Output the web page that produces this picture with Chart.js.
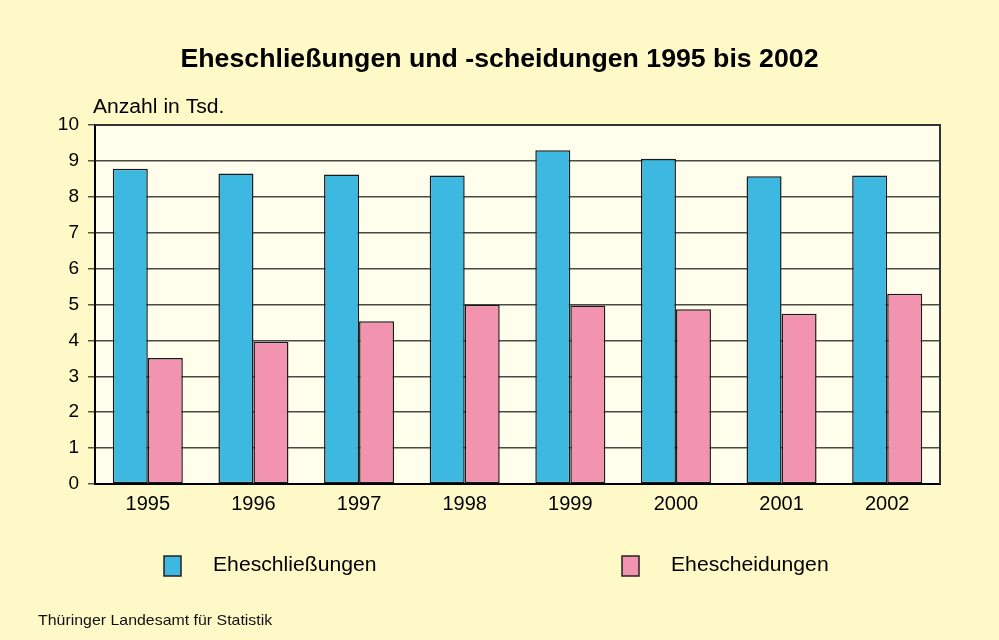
<!DOCTYPE html>
<html>
<head>
<meta charset="utf-8">
<script src="https://cdn.jsdelivr.net/npm/chart.js@4.4.1/dist/chart.umd.min.js"></script>
<style>
html,body{margin:0;padding:0;background:#FFF9C8;}
#wrap{width:999px;height:640px;position:relative;}
</style>
</head>
<body>
<div id="wrap"><canvas id="c" width="999" height="640"></canvas></div>
<script>
const titleText = "Eheschließungen und -scheidungen 1995 bis 2002";
const unitLabel = "Anzahl in Tsd.";
const sourceText = "Thüringer Landesamt für Statistik";
const years = ["1995","1996","1997","1998","1999","2000","2001","2002"];
const seriesNames = ["Eheschließungen","Ehescheidungen"];
const marriages = [8.78, 8.65, 8.62, 8.59, 9.30, 9.06, 8.57, 8.59];
const divorces  = [3.51, 3.96, 4.53, 4.99, 4.97, 4.87, 4.74, 5.30];
const yTicks = [0,1,2,3,4,5,6,7,8,9,10];

const FONT = "'Liberation Sans', Arial, sans-serif";
const colors = ["#3DB8E0", "#F294B0"];

function stretchText(ctx, text, x, y, sx) {
  ctx.save();
  ctx.translate(x, y);
  ctx.scale(sx, 1);
  ctx.fillText(text, 0, 0);
  ctx.restore();
}

const decor = {
  id: 'decor',
  beforeDraw(chart) {
    const {ctx, chartArea: a} = chart;
    ctx.save();
    ctx.fillStyle = '#FFF9C8';
    ctx.fillRect(0, 0, chart.width, chart.height);
    ctx.fillStyle = '#FFFDEC';
    ctx.fillRect(a.left, a.top, a.right - a.left, a.bottom - a.top);
    ctx.restore();
  },
  afterDraw(chart) {
    const {ctx, chartArea: a} = chart;
    ctx.save();
    ctx.strokeStyle = '#333';
    ctx.lineWidth = 2;
    ctx.beginPath();
    ctx.moveTo(a.left, a.top); ctx.lineTo(a.right, a.top); ctx.lineTo(a.right, a.bottom);
    ctx.stroke();
    ctx.fillStyle = '#000';
    ctx.textAlign = 'center';
    ctx.textBaseline = 'middle';
    ctx.font = "bold 25px " + FONT;
    stretchText(ctx, titleText, 499.5, 60, 1.068);
    ctx.textAlign = 'left';
    ctx.font = "20px " + FONT;
    stretchText(ctx, unitLabel, 93, 107, 1.055);
    const legendX = [164, 622];
    chart.data.datasets.forEach((ds, i) => {
      const x = legendX[i];
      ctx.fillStyle = ds.backgroundColor;
      ctx.fillRect(x, 556, 17, 20);
      ctx.strokeStyle = '#222';
      ctx.lineWidth = 1.5;
      ctx.strokeRect(x, 556, 17, 20);
      ctx.fillStyle = '#000';
      ctx.font = "20px " + FONT;
      ctx.textBaseline = 'middle';
      stretchText(ctx, ds.label, x + 49, 565, 1.058);
    });
    ctx.font = "15px " + FONT;
    ctx.fillStyle = '#111';
    stretchText(ctx, sourceText, 38, 621, 1.06);
    ctx.restore();
  }
};

new Chart(document.getElementById('c'), {
  type: 'bar',
  data: {
    labels: years,
    datasets: [
      {label: seriesNames[0], data: marriages, backgroundColor: colors[0], borderColor: '#1a1a1a', borderWidth: 1.5, borderSkipped: false},
      {label: seriesNames[1], data: divorces, backgroundColor: colors[1], borderColor: '#1a1a1a', borderWidth: 1.5, borderSkipped: false}
    ]
  },
  options: {
    responsive: false,
    animation: false,
    devicePixelRatio: 1,
    layout: {padding: {top: 125, right: 59, bottom: 0, left: 0}},
    plugins: {legend: {display: false}, title: {display: false}, tooltip: {enabled: false}},
    datasets: {bar: {categoryPercentage: 0.663, barPercentage: 1.0}},
    scales: {
      x: {
        afterFit(s) { s.height = 156; },
        grid: {display: false, drawTicks: false},
        border: {display: true, color: '#000', width: 2},
        ticks: {color: '#000', font: {family: FONT, size: 20}, padding: 8}
      },
      y: {
        min: 0, max: 10,
        afterFit(s) { s.width = 95; },
        afterBuildTicks(s) { s.ticks = yTicks.map(v => ({value: v})); },
        grid: {color: '#4a4a44', lineWidth: 1.5, tickLength: 7, tickColor: '#555', drawTicks: true},
        border: {display: true, color: '#000', width: 2},
        ticks: {color: '#000', font: {family: FONT, size: 19}, padding: 9}
      }
    }
  },
  plugins: [decor]
});
</script>
</body>
</html>
